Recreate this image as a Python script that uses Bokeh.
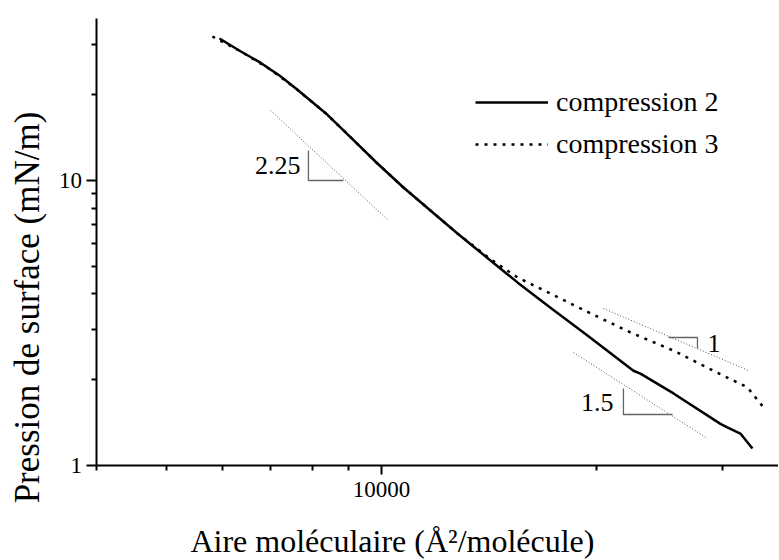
import math
from bokeh.plotting import figure
from bokeh.models import (Range1d, FixedTicker, Label, Legend, LegendItem, LogAxis,
                          PrintfTickFormatter)
from bokeh.embed import file_html
from bokeh.resources import INLINE

# ---- data ----
area_c2 = [5935, 6350, 6774, 6995, 7224, 7630, 8404, 9050, 9872, 10734, 11708,
           12773, 14206, 15496, 17235, 19414, 22513, 23023, 25615, 29795, 30460,
           31770, 33030]
pressure_c2 = [31.5, 28.4, 25.9, 24.5, 23.2, 20.8, 17.0, 14.2, 11.47, 9.45, 7.85,
               6.52, 5.24, 4.39, 3.58, 2.86, 2.15, 2.10, 1.79, 1.40, 1.36,
               1.295, 1.147]

area_c3 = [5801, 6350, 6995, 7630, 8404, 9050, 9872, 10734, 11708, 12773, 14206,
           15496, 17235, 19604, 22301, 25615, 29130, 32500, 34220]
pressure_c3 = [32.0, 28.4, 24.5, 20.8, 17.0, 14.2, 11.47, 9.45, 7.85, 6.52, 5.30,
               4.57, 4.01, 3.42, 2.93, 2.53, 2.15, 1.88, 1.60]

series_labels = ["compression 2", "compression 3"]

x_major_ticks = [10000]
x_minor_ticks = [4000, 5000, 6000, 7000, 8000, 9000, 20000, 30000]
y_major_ticks = [1, 10]
y_minor_ticks = [2, 3, 4, 5, 6, 7, 8, 9, 20, 30]

# axis extents (data units)
x_axis_bounds = (4000, 35920)
y_axis_bounds = (1, 37)

# slope guide lines (power laws) and their slope triangles
guide_225_x = [6995, 10227]
guide_225_y = [17.6, 7.24]
guide_1_x = [20440, 32610]
guide_1_y = [3.555, 2.154]
guide_15_x = [18560, 28570]
guide_15_y = [2.49, 1.244]

tri_225_x = [7904, 7904, 8848]
tri_225_y = [12.74, 10.0, 10.0]
tri_1_x = [25200, 27670, 27670]
tri_1_y = [2.813, 2.813, 2.573]
tri_15_x = [21800, 21800, 25530]
tri_15_y = [1.863, 1.510, 1.510]

slope_texts = ["2.25", "1", "1.5"]
slope_text_x = [7704, 28570, 21110]
slope_text_y = [11.29, 2.68, 1.663]
slope_text_align = ["right", "left", "right"]

x_title = "Aire moléculaire (Å²/molécule)"
y_title = "Pression de surface (mN/m)"

FONT = "Liberation Serif"

p = figure(x_axis_type="log", y_axis_type="log",
           x_axis_location=None, y_axis_location=None,
           x_range=Range1d(2932, 35920), y_range=Range1d(0.468, 42.8),
           width=778, height=559,
           min_border_left=0, min_border_right=0, min_border_top=0, min_border_bottom=0,
           output_backend="svg", toolbar_location=None)
p.outline_line_color = None
p.grid.visible = False
p.background_fill_color = "white"
p.border_fill_color = "white"

xaxis = LogAxis(fixed_location=y_axis_bounds[0], bounds=x_axis_bounds)
yaxis = LogAxis(fixed_location=x_axis_bounds[0], bounds=y_axis_bounds)
p.add_layout(xaxis, "below")
p.add_layout(yaxis, "left")

for ax, maj, mnr, tick_out, standoff in (
        (xaxis, x_major_ticks, x_minor_ticks, 9, 7),
        (yaxis, y_major_ticks, y_minor_ticks, 10, 5)):
    ax.ticker = FixedTicker(ticks=maj, minor_ticks=mnr)
    ax.formatter = PrintfTickFormatter(format="%d")
    ax.axis_line_width = 2
    ax.axis_line_color = "black"
    ax.major_tick_line_width = 2
    ax.minor_tick_line_width = 2
    ax.major_tick_out = tick_out
    ax.major_tick_in = 0
    ax.minor_tick_out = 5
    ax.minor_tick_in = 0
    ax.major_label_text_font = FONT
    ax.major_label_text_font_size = "23px"
    ax.major_label_text_color = "black"
    ax.major_label_standoff = standoff

# slope guides
for gx, gy in ((guide_225_x, guide_225_y), (guide_1_x, guide_1_y), (guide_15_x, guide_15_y)):
    p.line(gx, gy, line_color="#555555", line_width=1, line_dash="1 2")
for tx, ty in ((tri_225_x, tri_225_y), (tri_1_x, tri_1_y), (tri_15_x, tri_15_y)):
    p.line(tx, ty, line_color="#666666", line_width=1.3)

r3 = p.line(area_c3, pressure_c3, line_color="black", line_width=2.5, line_dash="3 6")
r2 = p.line(area_c2, pressure_c2, line_color="black", line_width=2.5)

for t, x, y, a in zip(slope_texts, slope_text_x, slope_text_y, slope_text_align):
    p.add_layout(Label(x=x, y=y, text=t, text_align=a, text_baseline="middle",
                       text_font=FONT, text_font_size="26px", text_color="black"))

p.add_layout(Label(x=10360, y=0.5456, text=x_title, text_align="center",
                   text_baseline="middle", text_font=FONT, text_font_size="32px",
                   text_color="black"))
p.add_layout(Label(x=3198, y=3.584, text=y_title, angle=math.pi / 2, text_align="center",
                   text_baseline="middle", text_font=FONT, text_font_size="35px",
                   text_color="black"))

legend = Legend(items=[LegendItem(label=series_labels[0], renderers=[r2]),
                       LegendItem(label=series_labels[1], renderers=[r3])],
                location=(475, 399), orientation="vertical",
                glyph_width=73, glyph_height=30, label_height=30, label_standoff=8,
                spacing=10, padding=0, margin=0,
                border_line_color=None, background_fill_alpha=0,
                label_text_font=FONT, label_text_font_size="28px",
                label_text_color="black", label_text_baseline="middle")
p.add_layout(legend)

open("out.html", "w").write(file_html(p, INLINE))
